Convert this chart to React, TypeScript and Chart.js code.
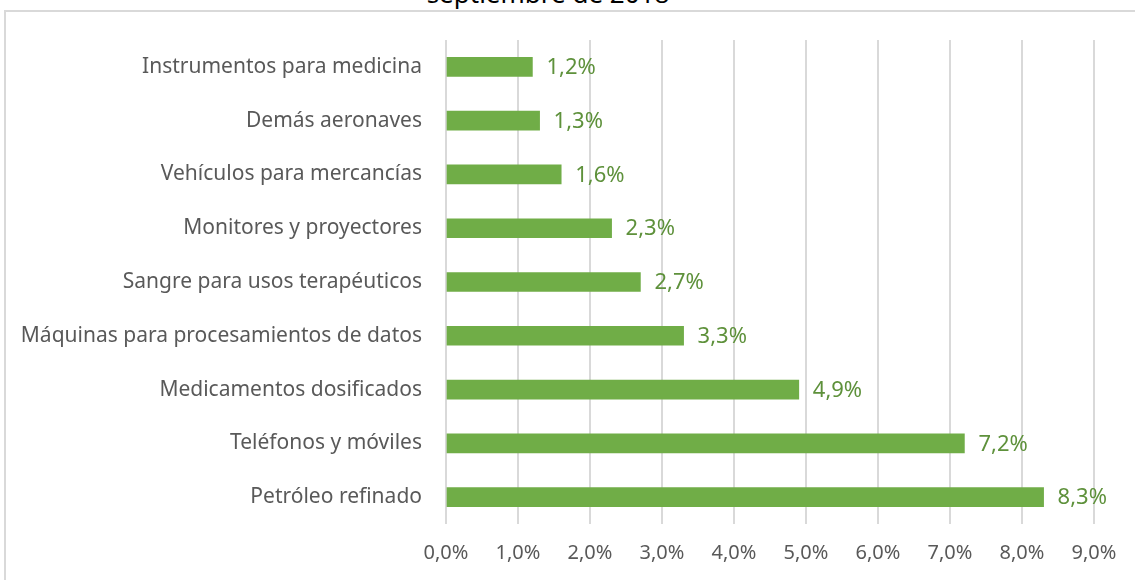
import React, { useEffect, useRef } from "react";
import { Chart, registerables } from "chart.js";

Chart.register(...registerables);

const categories = [
  "Instrumentos para medicina",
  "Demás aeronaves",
  "Vehículos para mercancías",
  "Monitores y proyectores",
  "Sangre para usos terapéuticos",
  "Máquinas para procesamientos de datos",
  "Medicamentos dosificados",
  "Teléfonos y móviles",
  "Petróleo refinado",
];
const values = [1.2, 1.3, 1.6, 2.3, 2.7, 3.3, 4.9, 7.2, 8.3];
const titleText = "septiembre de 2018";

const FONT = "'Noto Sans', sans-serif";
const fmt = (v: number) => v.toFixed(1).replace(".", ",") + "%";

const labelPlugin = {
  id: "barLabels",
  afterDatasetsDraw(chart: any) {
    const ctx = chart.ctx;
    const meta = chart.getDatasetMeta(0);
    ctx.save();
    ctx.fillStyle = "#5E913B";
    ctx.font = `22px ${FONT}`;
    ctx.textAlign = "left";
    ctx.textBaseline = "middle";
    meta.data.forEach((el: any, i: number) => {
      ctx.fillText(fmt(values[i]), el.x + 14, el.y + 1);
    });
    ctx.restore();
  },
};

export default function App() {
  const ref = useRef<HTMLCanvasElement>(null);
  useEffect(() => {
    if (!ref.current) return;
    const chart = new Chart(ref.current, {
      type: "bar",
      data: {
        labels: categories,
        datasets: [
          {
            data: values,
            backgroundColor: "#70AD47",
            barThickness: 19,
          },
        ],
      },
      options: {
        indexAxis: "y",
        animation: false,
        responsive: false,
        maintainAspectRatio: false,
        layout: { padding: { top: 40, right: 41, left: 0, bottom: 0 } },
        plugins: {
          legend: { display: false },
          tooltip: { enabled: false },
          title: { display: false },
        },
        scales: {
          x: {
            min: 0,
            max: 9,
            ticks: {
              stepSize: 1,
              callback: (v: any) => fmt(Number(v)),
              color: "#595959",
              font: { family: FONT, size: 20 },
              padding: 17,
            },
            grid: { color: "#D9D9D9", lineWidth: 2, drawTicks: false },
            border: { display: false },
            afterFit: (s: any) => {
              s.height = 56;
            },
          },
          y: {
            ticks: {
              color: "#595959",
              font: { family: FONT, size: 21 },
              padding: 24,
            },
            grid: { display: false, drawTicks: false },
            border: { display: false },
            afterFit: (s: any) => {
              s.width = 446;
            },
          },
        },
      },
      plugins: [labelPlugin],
    });
    return () => chart.destroy();
  }, []);

  return (
    <div style={{ position: "absolute", left: 0, top: 0, width: 1135, height: 580, overflow: "hidden", background: "#fff" }}>
      <div
        style={{
          position: "absolute",
          left: 4,
          top: 10,
          width: 1200,
          height: 700,
          borderLeft: "2px solid #D9D9D9",
          borderTop: "2px solid #D9D9D9",
        }}
      />
      <div
        style={{
          position: "absolute",
          left: 0,
          width: 1096,
          top: -23,
          textAlign: "center",
          fontFamily: FONT,
          fontSize: 26,
          color: "#000",
          lineHeight: "32px",
        }}
      >
        {titleText}
      </div>
      <canvas ref={ref} width={1135} height={580} style={{ position: "absolute", left: 0, top: 0 }} />
    </div>
  );
}
